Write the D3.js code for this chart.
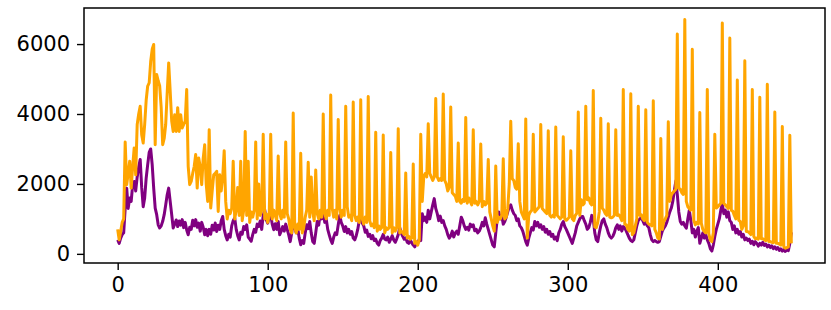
<!DOCTYPE html>
<html>
<head>
<meta charset="utf-8">
<script src="https://cdn.jsdelivr.net/npm/d3@7"></script>
<style>
  body { margin: 0; background: #fff; }
  svg { display: block; }
  text { font-family: "DejaVu Sans", sans-serif; }
</style>
</head>
<body>
<svg id="chart" width="831" height="310"></svg>
<script>

// orange series, one row = 10 days
const orangeValues = [
  700, 400, 650, 900, 1000, 3200, 1980, 2300, 2650, 1880,
  2500, 3030, 2260, 3700, 4000, 4220, 3410, 3170, 3700, 4400,
  4800, 4890, 5500, 5850, 5990, 3120, 5130, 4950, 4800, 4180,
  3120, 3300, 3700, 4600, 5460, 4650, 3800, 3500, 3980, 3500,
  4180, 3500, 3980, 3600, 3700, 3800, 4700, 2500, 1980, 2070,
  2300, 2500, 2840, 1880, 2740, 2500, 1980, 2740, 3120, 2000,
  1500, 3550, 1310, 1800, 2260, 2300, 2360, 1210, 2260, 1800,
  2200, 2950, 1500, 1000, 1250, 1150, 1300, 2650, 1000, 1250,
  1900, 1100, 2650, 950, 1250, 3500, 1100, 2650, 900, 1200,
  1050, 1250, 3200, 1000, 2000, 1100, 1250, 3420, 1000, 1150,
  900, 1100, 3420, 1000, 1250, 1100, 950, 2800, 1150, 1000,
  1250, 1050, 3200, 1150, 1000, 700, 600, 4030, 750, 600,
  850, 700, 2880, 600, 750, 1050, 1250, 2620, 1050, 2200,
  1200, 950, 2400, 1150, 1000, 1250, 1050, 4000, 1150, 1000,
  1250, 1100, 4540, 1300, 1050, 1250, 1000, 3840, 1300, 1050,
  1250, 1100, 4220, 1350, 1050, 1100, 950, 4340, 1100, 950,
  1050, 900, 4410, 1000, 850, 1050, 900, 4500, 950, 800,
  850, 750, 3480, 650, 800, 700, 750, 3400, 600, 750,
  700, 750, 2900, 600, 750, 650, 750, 3580, 600, 650,
  600, 550, 2310, 450, 500, 420, 450, 2570, 300, 350,
  250, 400, 3420, 1500, 2200, 2300, 2200, 3720, 2300, 2200,
  2100, 2200, 4440, 2200, 2100, 2150, 2100, 4570, 2100, 2000,
  1800, 1900, 4200, 1750, 1700, 1650, 1500, 3170, 1500, 1450,
  1550, 1500, 3900, 1450, 1600, 1500, 1400, 3550, 1450, 1500,
  1400, 1500, 3140, 1350, 1500, 1400, 1450, 2700, 1200, 1000,
  800, 650, 2510, 900, 1050, 1000, 1100, 2720, 1000, 1050,
  1300, 2000, 3790, 2150, 2100, 1900, 1850, 3150, 1500, 1200,
  1100, 1000, 3860, 450, 1100, 1200, 1250, 3420, 1200, 1250,
  1300, 1350, 3700, 1300, 1250, 1200, 1150, 3520, 1100, 1050,
  1100, 1050, 3630, 1100, 1050, 1000, 1050, 3350, 1000, 960,
  1000, 1050, 2950, 1000, 950, 1100, 1160, 4060, 1100, 1550,
  1400, 1450, 4220, 1550, 1600, 1450, 1400, 4670, 770, 750,
  900, 1200, 3880, 1310, 1250, 1150, 1100, 3720, 1050, 1030,
  1050, 1100, 3550, 1100, 1120, 1050, 950, 4700, 850, 830,
  700, 650, 4580, 550, 600, 800, 1000, 4220, 1100, 1120,
  1000, 950, 4120, 900, 850, 830, 800, 4380, 700, 600,
  450, 430, 3300, 700, 925, 1000, 1100, 3780, 1500, 1690,
  1750, 1800, 1850, 6290, 1880, 1850, 1750, 1700, 6700, 1500,
  1350, 1300, 1250, 5850, 960, 830, 900, 850, 4040, 880,
  700, 640, 600, 4700, 580, 390, 350, 600, 3420, 1310,
  1350, 1400, 1450, 6600, 1440, 1400, 1350, 1300, 6170, 1250,
  1220, 1100, 1000, 4970, 960, 925, 700, 800, 5520, 640,
  640, 600, 550, 4700, 500, 430, 450, 420, 4480, 430,
  430, 400, 380, 4850, 350, 350, 330, 320, 4060, 300,
  300, 280, 250, 3640, 200, 160, 180, 200, 3390, 300
]

// purple series
const purpleValues = [
  400, 300, 450, 550, 600, 1300, 1880, 1300, 1600, 1500,
  1980, 2070, 1800, 2200, 2480, 2700, 1900, 1350, 1600, 2170,
  2550, 2900, 3000, 2550, 1880, 1310, 1120, 830, 740, 800,
  930, 1120, 1400, 1690, 1880, 1500, 1120, 740, 850, 970,
  780, 940, 820, 980, 750, 900, 680, 545, 760, 700,
  960, 800, 980, 760, 880, 650, 900, 760, 545, 700,
  520, 700, 560, 820, 680, 880, 640, 820, 700, 950,
  1070, 700, 520, 400, 560, 480, 800, 950, 1030, 700,
  520, 400, 620, 560, 780, 700, 830, 480, 420, 360,
  550, 700, 620, 850, 780, 940, 700, 1100, 1260, 980,
  880, 1050, 1120, 850, 690, 860, 700, 925, 545, 650,
  780, 650, 850, 700, 540, 350, 600, 925, 760, 600,
  735, 450, 260, 380, 300, 600, 830, 720, 925, 600,
  350, 300, 600, 925, 820, 1170, 1000, 1220, 900, 1000,
  700, 545, 400, 300, 480, 600, 550, 830, 1100, 900,
  800, 640, 780, 600, 700, 560, 640, 450, 400, 520,
  700, 950, 1150, 880, 800, 620, 680, 500, 560, 430,
  520, 380, 420, 300, 250, 380, 450, 560, 420, 400,
  480, 330, 420, 520, 400, 330, 430, 550, 750, 600,
  500, 420, 460, 330, 300, 400, 320, 250, 200, 300,
  300, 420, 380, 1150, 950, 1050, 900, 1250, 1000, 1200,
  1400, 1580, 1300, 1150, 950, 1080, 900, 950, 800, 700,
  550, 450, 520, 650, 480, 600, 650, 560, 800, 1050,
  950, 800, 700, 760, 680, 850, 780, 830, 660, 700,
  600, 650, 750, 900, 800, 1030, 850, 700, 550, 400,
  250, 200, 600, 1000, 1200, 1000, 1100, 850, 925, 1050,
  1200, 1350, 1400, 1250, 1150, 1100, 950, 1000, 800, 750,
  650, 500, 350, 250, 450, 600, 750, 680, 925, 800,
  900, 760, 830, 700, 780, 620, 700, 560, 640, 500,
  560, 420, 480, 380, 600, 700, 850, 925, 780, 700,
  600, 500, 400, 300, 450, 600, 800, 900, 1000, 1060,
  1070, 950, 850, 700, 750, 900, 1100, 1000, 600, 400,
  350, 600, 800, 950, 1000, 850, 750, 600, 500, 450,
  500, 600, 750, 830, 700, 800, 650, 780, 735, 650,
  550, 450, 380, 350, 400, 600, 800, 950, 1000, 1030,
  950, 850, 925, 800, 750, 550, 400, 350, 380, 350,
  330, 350, 500, 650, 735, 800, 900, 1050, 1200, 1310,
  1500, 1800, 2080, 1700, 1200, 925, 850, 900, 800, 735,
  1000, 1250, 960, 600, 700, 480, 650, 750, 300, 450,
  600, 450, 550, 400, 300, 150, 80, 250, 500, 700,
  850, 1000, 1250, 1430, 1150, 1250, 1050, 1200, 950, 900,
  700, 800, 600, 700, 560, 640, 480, 560, 400, 450,
  380, 420, 300, 360, 260, 350, 300, 220, 300, 250,
  330, 240, 280, 200, 250, 180, 230, 150, 200, 130,
  180, 100, 140, 80, 120, 70, 110, 90, 300, 620
]

const xTicks = [ 0, 100, 200, 300, 400 ]
const yTicks = [ 0, 2000, 4000, 6000 ]

const plotLeft = 84, plotRight = 825, plotTop = 8, plotBottom = 263

var svg = d3.select("#chart")

// 5% padding on each side, like the original plot
const n = orangeValues.length - 1
const xPad = n * 0.05
var x = d3.scaleLinear()
          .domain([ -xPad, n + xPad ])
          .range([ plotLeft, plotRight ])

const yMin = d3.min( purpleValues.concat( orangeValues ) )
const yMax = d3.max( purpleValues.concat( orangeValues ) )
const yPad = ( yMax - yMin ) * 0.05
var y = d3.scaleLinear()
          .domain([ yMin - yPad, yMax + yPad ])
          .range([ plotBottom, plotTop ])

var line = d3.line()
             .x( (d, i) => x( i ) )
             .y( d => y( d ) )

svg.append("path")
   .datum( purpleValues )
   .attr("d", line)
   .attr("fill", "none")
   .attr("stroke", "purple")
   .attr("stroke-width", 3)
   .attr("stroke-linejoin", "round")

svg.append("path")
   .datum( orangeValues )
   .attr("d", line)
   .attr("fill", "none")
   .attr("stroke", "orange")
   .attr("stroke-width", 3)
   .attr("stroke-linejoin", "round")

var xAxis = svg.append("g")
               .attr("transform", "translate(0," + plotBottom + ")")
               .call( d3.axisBottom( x )
                        .tickValues( xTicks )
                        .tickFormat( d => d )
                        .tickSizeOuter( 0 )
                        .tickSize( 7 )
                        .tickPadding( 7 ) )

var yAxis = svg.append("g")
               .attr("transform", "translate(" + plotLeft + ",0)")
               .call( d3.axisLeft( y )
                        .tickValues( yTicks )
                        .tickFormat( d => d )
                        .tickSizeOuter( 0 )
                        .tickSize( 7 )
                        .tickPadding( 7 ) )

svg.selectAll(".domain").remove()

svg.selectAll(".tick line")
   .attr("stroke", "#000")
   .attr("stroke-width", 1.4)

svg.selectAll(".tick text")
   .attr("font-size", 21)
   .attr("fill", "#000")
   .style("font-family", "DejaVu Sans")

svg.append("rect")
   .attr("x", plotLeft)
   .attr("y", plotTop)
   .attr("width", plotRight - plotLeft)
   .attr("height", plotBottom - plotTop)
   .attr("fill", "none")
   .attr("stroke", "#000")
   .attr("stroke-width", 1.5)

</script>
</body>
</html>
